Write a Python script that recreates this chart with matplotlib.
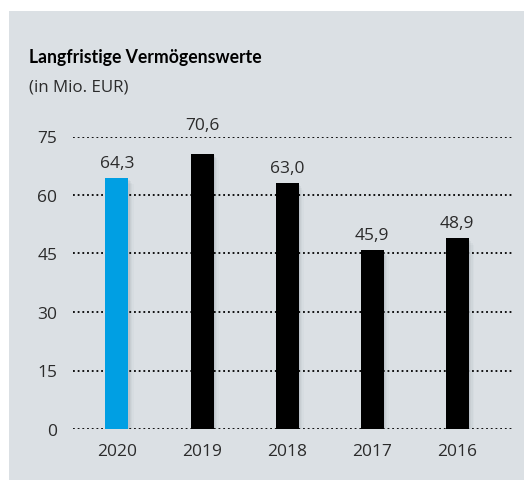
import numpy as np
import matplotlib.pyplot as plt
from matplotlib.patches import Rectangle

years = ["2020", "2019", "2018", "2017", "2016"]
values = [64.3, 70.6, 63.0, 45.9, 48.9]
value_labels = ["64,3", "70,6", "63,0", "45,9", "48,9"]
bar_colors = ["#009fe3", "#000000", "#000000", "#000000", "#000000"]
yticks = [0, 15, 30, 45, 60, 75]

bg = "#dbe0e4"
txt = "#2b2b2b"
num_font = ["Open Sans", "DejaVu Sans"]
plt.rcParams["font.family"] = num_font

fig = plt.figure(figsize=(5.24, 4.81), dpi=100)
fig.patch.set_facecolor("white")
fig.patches.append(Rectangle((9 / 524, 0), 1, 1 - 12 / 481, transform=fig.transFigure,
                             facecolor=bg, edgecolor="none", zorder=-10))

ax = fig.add_axes([72.7 / 524, 51 / 481, (511.7 - 72.7) / 524, (430 - 137.5) / 481])
ax.set_facecolor("none")
x = np.arange(len(years))
w = 0.27

# soft shadow on the right of each bar
for k, a in enumerate([0.10, 0.08, 0.06, 0.04]):
    ax.bar(x + 0.015 * (k + 1), np.array(values) - 0.4 * (k + 1), width=w, bottom=0,
           color="#6c7a86", alpha=a, zorder=1, linewidth=0)
ax.bar(x, values, width=w, color=bar_colors, zorder=3, linewidth=0)

for xi, v, lab in zip(x, values, value_labels):
    # labels that would sit on the top gridline get pushed above it
    off = 5 if v < 68 else 15
    ax.annotate(lab, (xi, v), xytext=(0, off), textcoords="offset points",
                ha="center", va="bottom", fontsize=12.5, color=txt)

for t in yticks:
    ax.axhline(t, color="black", lw=1.3, ls=(0, (1, 1.6)), zorder=2)

ax.set_xlim(-0.52, 4.64)
ax.set_ylim(0, 75)
ax.set_yticks(yticks)
ax.set_yticklabels([str(t) for t in yticks])
ax.set_xticks(x)
ax.set_xticklabels(years)
ax.tick_params(axis="both", length=0, labelsize=12.5, labelcolor=txt)
ax.tick_params(axis="x", pad=10)
ax.tick_params(axis="y", pad=11)
for s in ax.spines.values():
    s.set_visible(False)

fig.text(29 / 524, 1 - 63 / 481, "Langfristige Vermögenswerte", fontsize=12.7,
         fontweight="bold", color="black", ha="left", va="baseline",
         family=["Lato", "DejaVu Sans"])
fig.text(29 / 524, 1 - 92 / 481, "(in Mio. EUR)", fontsize=12.2,
         color=txt, ha="left", va="baseline")

fig.savefig("out.png", dpi=100, facecolor=fig.get_facecolor())
